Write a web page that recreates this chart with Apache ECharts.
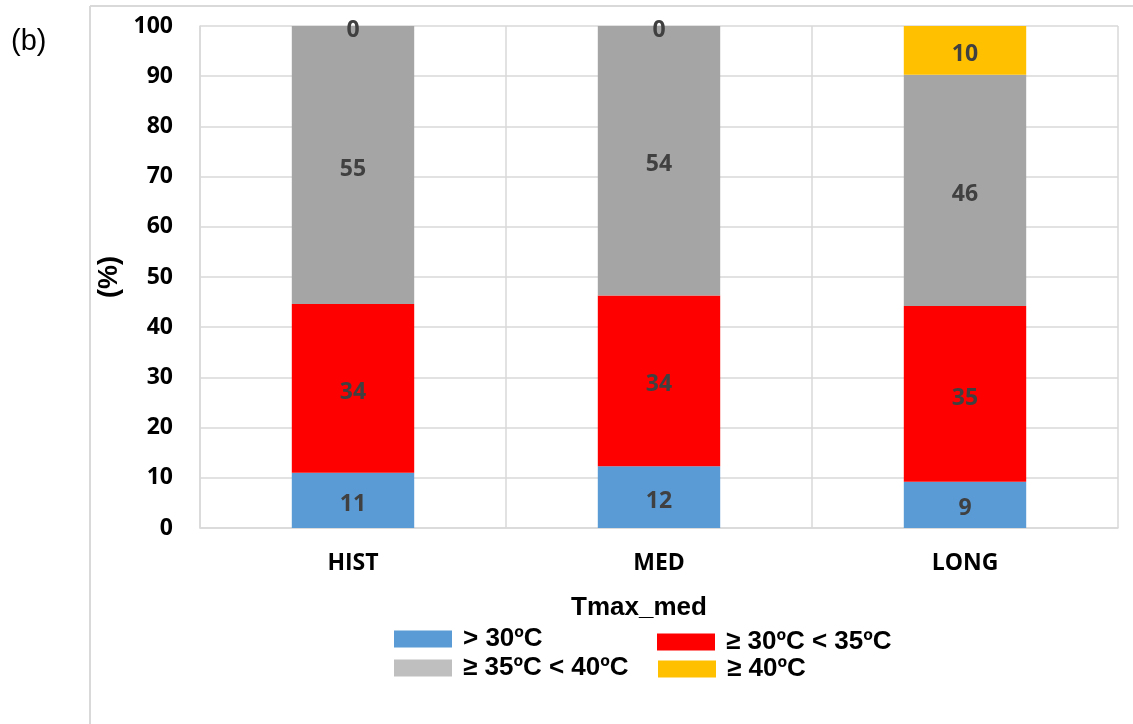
<!DOCTYPE html>
<html>
<head>
<meta charset="utf-8">
<script src="https://cdn.jsdelivr.net/npm/echarts@6/dist/echarts.min.js"></script>
<style>html,body{margin:0;padding:0;background:#fff}#c{width:1133px;height:724px}</style>
</head>
<body>
<div id="c"></div>
<script>
const categories = ['HIST', 'MED', 'LONG'];
const seriesNames = ['> 30ºC', '≥ 30ºC < 35ºC', '≥ 35ºC < 40ºC', '≥ 40ºC'];
const below30 = [11.0, 12.3, 9.2];
const from30to35 = [33.6, 34.0, 35.0];
const from35to40 = [55.4, 53.7, 46.1];
const above40 = [0, 0, 9.7];
const yTicks = [0, 10, 20, 30, 40, 50, 60, 70, 80, 90, 100];

const colors = ['#5B9BD5', '#FF0000', '#A5A5A5', '#FFC000'];
const legendColors = ['#5B9BD5', '#FF0000', '#BFBFBF', '#FFC000'];
const values = [below30, from30to35, from35to40, above40];

const chart = echarts.init(document.getElementById('c'), null, {renderer: 'canvas'});
const labelFont = '"Open Sans", "Noto Sans", sans-serif';

const legendPos = [
  {left: 394, top: 626},
  {left: 657, top: 629},
  {left: 394, top: 655},
  {left: 658, top: 656}
];

const option = {
  animation: false,
  backgroundColor: '#fff',
  graphic: [
    {type: 'line', shape: {x1: 90, y1: 6, x2: 90, y2: 724}, style: {stroke: '#D9D9D9', lineWidth: 2}},
    {type: 'line', shape: {x1: 90, y1: 6, x2: 1133, y2: 6}, style: {stroke: '#D9D9D9', lineWidth: 2}},
    {type: 'text', left: 11, top: 27, style: {text: '(b)', font: '29px "Liberation Sans", Arial, sans-serif', fill: '#000'}},
    {type: 'text', left: 571, top: 595, style: {text: 'Tmax_med', font: 'bold 26px "Liberation Sans", Arial, sans-serif', fill: '#000'}}
  ],
  grid: {left: 200, right: 15, top: 26, bottom: 196, containLabel: false},
  legend: seriesNames.map((n, i) => ({
    data: [{name: n, itemStyle: {color: legendColors[i]}}],
    left: legendPos[i].left,
    top: legendPos[i].top,
    padding: 0,
    itemWidth: 58,
    itemHeight: 17,
    icon: 'rect',
    selectedMode: false,
    textStyle: {fontFamily: '"Liberation Sans", Arial, sans-serif', fontWeight: 'bold', fontSize: 26, color: '#000', padding: [4, 0, 0, 6]}
  })),
  xAxis: {
    type: 'category',
    data: categories,
    axisTick: {show: false},
    axisLine: {show: true, lineStyle: {color: '#D9D9D9', width: 1.5}},
    splitLine: {show: true, lineStyle: {color: '#D9D9D9', width: 1.5}},
    axisLabel: {fontFamily: labelFont, fontWeight: 'bold', fontSize: 23, color: '#000', margin: 24}
  },
  yAxis: {
    type: 'value',
    min: 0, max: 100, interval: 10,
    name: '(%)',
    nameLocation: 'middle',
    nameGap: 72,
    nameRotate: 90,
    nameTextStyle: {fontFamily: '"Liberation Sans", Arial, sans-serif', fontWeight: 'bold', fontSize: 27, color: '#000'},
    axisLine: {show: true, lineStyle: {color: '#D9D9D9', width: 1.5}},
    axisTick: {show: false},
    splitLine: {show: true, lineStyle: {color: '#D9D9D9', width: 1.5}},
    axisLabel: {fontFamily: labelFont, fontWeight: 'bold', fontSize: 23, color: '#000', margin: 27,
      padding: [6, 0, 0, 0],
      formatter: v => yTicks.includes(v) ? String(v) : ''}
  },
  series: values.map((d, i) => ({
    name: seriesNames[i],
    type: 'bar',
    stack: 'total',
    barWidth: '40%',
    data: d,
    itemStyle: {color: colors[i]},
    label: {
      show: true,
      position: 'inside',
      offset: [0, 4],
      formatter: p => String(Math.round(p.value)),
      fontFamily: labelFont, fontWeight: 'bold', fontSize: 23, color: '#404040'
    }
  }))
};
chart.setOption(option);
</script>
</body>
</html>
